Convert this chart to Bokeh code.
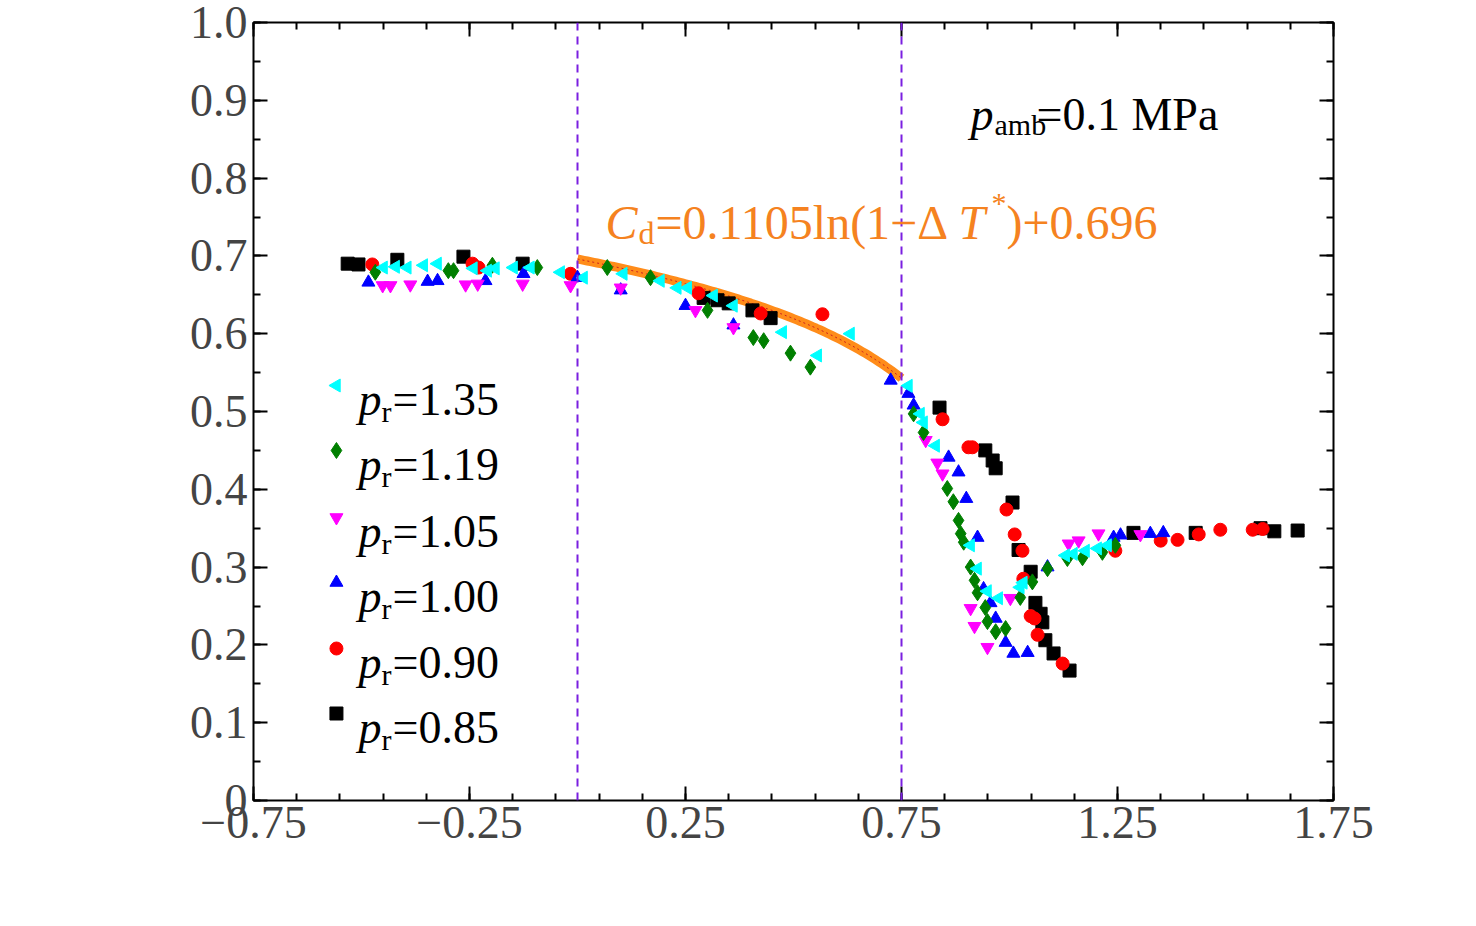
import numpy as np
from bokeh.plotting import figure
from bokeh.models import LinearAxis, Span, Label, Range1d, FixedTicker, CustomJSTickFormatter
from bokeh.embed import file_html
from bokeh.resources import INLINE

x085 = [-0.532,-0.507,-0.417,-0.264,-0.127,0.292,0.324,0.350,0.405,0.447,0.838,0.944,0.961,0.968,1.007,1.021,1.049,1.060,1.072,1.076,1.083,1.102,1.139,1.287,1.431,1.581,1.613,1.667]
y085 = [0.690,0.689,0.695,0.699,0.690,0.646,0.643,0.639,0.630,0.620,0.505,0.450,0.437,0.427,0.383,0.322,0.294,0.254,0.240,0.229,0.206,0.189,0.167,0.344,0.344,0.350,0.346,0.347]
x090 = [-0.475,-0.243,-0.229,-0.016,0.280,0.424,0.567,0.845,0.905,0.914,0.993,1.012,1.030,1.032,1.049,1.058,1.065,1.123,1.245,1.350,1.389,1.438,1.488,1.563,1.586]
y090 = [0.689,0.690,0.685,0.677,0.652,0.626,0.625,0.490,0.454,0.454,0.374,0.342,0.321,0.285,0.237,0.234,0.213,0.176,0.321,0.334,0.335,0.342,0.348,0.348,0.349]
x100 = [-0.484,-0.347,-0.324,-0.213,-0.125,0.0,0.100,0.250,0.361,0.725,0.766,0.778,0.859,0.882,0.900,0.926,0.940,0.956,0.968,0.991,1.009,1.042,1.088,1.241,1.257,1.326,1.356]
y100 = [0.666,0.667,0.668,0.668,0.677,0.672,0.656,0.636,0.611,0.540,0.523,0.508,0.441,0.422,0.388,0.338,0.272,0.254,0.234,0.203,0.189,0.190,0.300,0.338,0.341,0.343,0.344]
x105 = [-0.451,-0.433,-0.387,-0.259,-0.231,-0.127,-0.016,0.100,0.273,0.361,0.806,0.833,0.845,0.910,0.919,0.949,1.002,1.137,1.160,1.206,1.303]
y105 = [0.662,0.662,0.663,0.663,0.664,0.664,0.662,0.659,0.630,0.608,0.463,0.434,0.420,0.247,0.224,0.197,0.260,0.330,0.334,0.343,0.342]
x119 = [-0.468,-0.299,-0.287,-0.197,-0.093,0.069,0.169,0.301,0.407,0.431,0.493,0.539,0.778,0.801,0.856,0.870,0.882,0.887,0.894,0.910,0.919,0.926,0.944,0.949,0.968,0.991,1.025,1.053,1.088,1.134,1.169,1.215,1.245]
y119 = [0.679,0.681,0.681,0.688,0.685,0.685,0.672,0.630,0.595,0.591,0.575,0.557,0.497,0.473,0.401,0.384,0.360,0.343,0.332,0.300,0.283,0.267,0.248,0.230,0.217,0.221,0.261,0.281,0.298,0.311,0.312,0.319,0.328]
x135 = [-0.449,-0.421,-0.394,-0.356,-0.324,-0.241,-0.208,-0.190,-0.148,-0.109,-0.039,0.014,0.106,0.192,0.231,0.255,0.315,0.361,0.475,0.556,0.632,0.766,0.794,0.801,0.829,0.910,0.926,0.949,0.975,1.025,1.032,1.130,1.148,1.176,1.204,1.227]
y135 = [0.685,0.686,0.685,0.688,0.690,0.684,0.681,0.684,0.685,0.685,0.679,0.672,0.677,0.668,0.659,0.659,0.649,0.636,0.602,0.572,0.600,0.533,0.497,0.486,0.456,0.328,0.298,0.269,0.260,0.274,0.280,0.315,0.317,0.321,0.324,0.328]
fit_a, fit_b = 0.1105, 0.696
x_ticks = [-0.75, -0.25, 0.25, 0.75, 1.25, 1.75]
y_ticks = [0, 0.1, 0.2, 0.3, 0.4, 0.5, 0.6, 0.7, 0.8, 0.9, 1.0]
legend_labels = ["1.35", "1.19", "1.05", "1.00", "0.90", "0.85"]

FONT = "Liberation Serif"
FL, FB = 253, 800  # frame left / bottom in page pixels
p = figure(frame_width=1080, frame_height=778, output_backend="svg", toolbar_location=None,
           x_range=Range1d(-0.75, 1.75), y_range=Range1d(0, 1.0),
           min_border_left=253, min_border_right=120, min_border_top=22, min_border_bottom=100)
p.grid.visible = False
p.outline_line_color = "black"
p.outline_line_width = 2
p.background_fill_color = "white"
p.border_fill_color = "white"

def style(ax, labels=True):
    ax.axis_line_color = None
    ax.major_tick_in = 14; ax.major_tick_out = 0
    ax.minor_tick_in = 7; ax.minor_tick_out = 0
    ax.major_tick_line_width = 2; ax.minor_tick_line_width = 2
    ax.major_label_text_font = FONT
    ax.major_label_text_font_size = "46px"
    ax.major_label_standoff = 6
    if not labels:
        ax.formatter = CustomJSTickFormatter(code="return ''")

p.xaxis.ticker = FixedTicker(ticks=x_ticks, minor_ticks=list(np.round(np.arange(-0.75, 1.751, 0.1), 3)))
p.yaxis.ticker = FixedTicker(ticks=y_ticks, minor_ticks=list(np.round(np.arange(0, 1.001, 0.05), 3)))
p.xaxis.major_label_overrides = {-0.75: "\u22120.75", -0.25: "\u22120.25"}
p.yaxis.major_label_overrides = {0: "0", 1.0: "1.0"}
style(p.xaxis[0]); style(p.yaxis[0])
ax_r = LinearAxis(ticker=p.yaxis.ticker); style(ax_r, False)
ax_t = LinearAxis(ticker=p.xaxis.ticker); style(ax_t, False)
p.add_layout(ax_r, "right"); p.add_layout(ax_t, "above")

for loc in [0, 0.75]:
    p.add_layout(Span(location=loc, dimension="height", line_color="#7a1fe0", line_width=2, line_dash="8 6"))

fx = np.linspace(0, 0.75, 100)
fy = fit_a * np.log(1 - fx) + fit_b
p.line(fx, fy, line_color="#ff8c1a", line_width=9)
p.line(fx, fy, line_color="#cc2020", line_width=1, line_dash="2 3")

S = 13
series = [
    (x135, y135, "triangle", "#00ffff", np.pi/2),
    (x119, y119, "diamond", "#007f00", 0),
    (x105, y105, "inverted_triangle", "#ff00ff", 0),
    (x100, y100, "triangle", "#0000ff", 0),
    (x090, y090, "circle", "#ff0000", 0),
    (x085, y085, "square", "#000000", 0),
]
for xs, ys, m, c, a in reversed(series):
    p.scatter(xs, ys, marker=m, size=S if m != "diamond" else 16, color=c, angle=a)

def lab(x, y, t, size=40, italic=False, color="black", angle=0):
    p.add_layout(Label(x=x - FL, y=FB - y, x_units="screen", y_units="screen", text=t,
                       text_font=FONT, text_font_size=f"{size}px", text_color=color,
                       text_font_style="italic" if italic else "normal",
                       text_baseline="alphabetic", text_align="left", angle=angle))

rows = [385, 450, 517, 582, 648, 713]
for (xs, ys, m, c, a), lbl, ry in zip(series, legend_labels, rows):
    p.scatter([-0.558], [(800 - ry) / 778], marker=m, size=S if m != "diamond" else 16, color=c, angle=a)
    lab(358, ry + 14, "p", size=46, italic=True)
    lab(381, ry + 26, "r", size=30)
    lab(392, ry + 14, "=" + lbl, size=46)

lab(970, 114, "p", size=46, italic=True)
lab(994, 124, "amb", size=30)
lab(1036, 114, "=0.1 MPa", size=46)

OR = "#f58220"
lab(605, 222, "C", size=48, italic=True, color=OR)
lab(638, 232, "d", size=32, color=OR)
lab(655, 222, "=0.1105ln(1\u2212\u0394", size=48, color=OR)
lab(958, 222, "T", size=48, italic=True, color=OR)
lab(991, 202, "*", size=30, color=OR)
lab(1006, 222, ")+0.696", size=48, color=OR)

lab(760, 916, "\u0394", size=46)
lab(790, 916, "T", size=46, italic=True)
lab(823, 896, "*", size=28)

lab(143, 500, "C", size=48, italic=True, angle=np.pi/2)
lab(153, 467, "d", size=32, angle=np.pi/2)

open("out.html", "w").write(file_html(p, INLINE))
